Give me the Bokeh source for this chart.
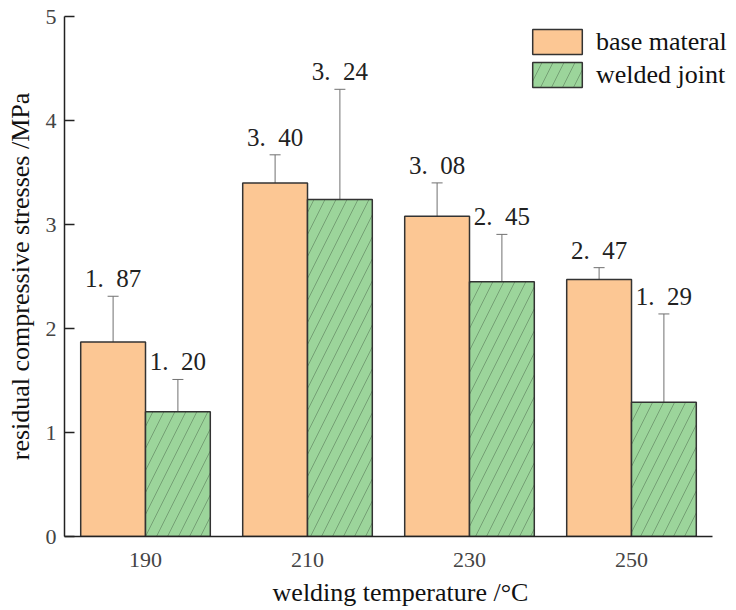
from bokeh.plotting import figure
from bokeh.models import (ColumnDataSource, Whisker, TeeHead, Legend, LegendItem,
                          FixedTicker, Range1d)
from bokeh.core.properties import value
from bokeh.embed import file_html
from bokeh.resources import INLINE

# welding temperatures (°C)
temperatures = ["190", "210", "230", "250"]
# residual compressive stresses (MPa) and their standard deviations
base_material = [1.87, 3.40, 3.08, 2.47]
base_err = [0.44, 0.27, 0.32, 0.115]
welded_joint = [1.20, 3.24, 2.45, 1.29]
welded_err = [0.31, 1.06, 0.455, 0.85]
series_names = ["base materal", "welded joint"]

SERIF = "Liberation Serif"
BAR_W = 0.4
X_LO, X_HI = -0.5, 3.5


def fmt(v):
    # gap after the decimal point, as in the printed labels
    return f"{v:.2f}".replace(".", ".\u2002")


# frame runs to the right edge so the legend has room; the x axis line stops at X_HI
p = figure(width=736, height=610, output_backend="svg", toolbar_location=None,
           x_range=Range1d(X_LO, X_HI + 24 / 162), y_range=Range1d(0, 5),
           min_border_left=64, min_border_right=0, min_border_top=16,
           min_border_bottom=74)
p.grid.visible = False
p.outline_line_color = None

idx = list(range(len(temperatures)))
xb = [i - BAR_W / 2 for i in idx]
xw = [i + BAR_W / 2 for i in idx]

src_b = ColumnDataSource(dict(
    x=xb, top=base_material,
    upper=[v + e for v, e in zip(base_material, base_err)],
    lower=[v - e for v, e in zip(base_material, base_err)],
    label=[fmt(v) for v in base_material]))
src_w = ColumnDataSource(dict(
    x=xw, top=welded_joint,
    upper=[v + e for v, e in zip(welded_joint, welded_err)],
    lower=[v - e for v, e in zip(welded_joint, welded_err)],
    label=[fmt(v) for v in welded_joint]))

rb = p.vbar(x="x", top="top", width=BAR_W, source=src_b,
            fill_color="#FCC794", line_color="#333333", line_width=1.5)
rw = p.vbar(x="x", top="top", width=BAR_W, source=src_w,
            fill_color="#9CD59B", line_color="#333333", line_width=1.5,
            hatch_pattern="/", hatch_color="#4d6b4d", hatch_scale=22,
            hatch_weight=0.6, hatch_alpha=0.85)

for src in (src_b, src_w):
    w = Whisker(base="x", upper="upper", lower="lower", source=src,
                line_color="#707070", line_width=1,
                upper_head=TeeHead(size=11, line_color="#707070", line_width=1),
                lower_head=TeeHead(size=11, line_color="#707070", line_width=1))
    p.add_layout(w)
    p.text(x="x", y="upper", text="label", source=src, y_offset=-4,
           text_align="center", text_baseline="bottom",
           text_font=value(SERIF), text_font_size="25px", text_color="#222222")

# axes
p.xaxis.ticker = FixedTicker(ticks=idx)
p.xaxis.major_label_overrides = {i: t for i, t in zip(idx, temperatures)}
p.xaxis.minor_tick_line_color = None
p.xaxis.bounds = (X_LO, X_HI)
p.xaxis.axis_label = "welding temperature /°C"

p.yaxis.ticker = FixedTicker(ticks=[0, 1, 2, 3, 4, 5])
p.yaxis.major_tick_in = 10
p.yaxis.major_tick_out = 0
p.yaxis.minor_tick_line_color = None
p.yaxis.axis_label = "residual compressive stresses /MPa"

for ax in (p.xaxis[0], p.yaxis[0]):
    ax.axis_line_color = "#222222"
    ax.axis_line_width = 1.5
    ax.major_tick_line_width = 1.5
    ax.major_label_text_font = SERIF
    ax.major_label_text_font_size = "22px"
    ax.major_label_text_color = "#444444"
    ax.axis_label_text_font = SERIF
    ax.axis_label_text_font_size = "26px"
    ax.axis_label_text_font_style = "normal"
    ax.axis_label_text_color = "#111111"
p.yaxis.major_tick_line_color = "#222222"
p.xaxis.major_tick_line_color = None
p.xaxis.major_label_standoff = 10
p.xaxis.axis_label_standoff = 8
p.yaxis.major_label_standoff = 8
p.yaxis.axis_label_standoff = 8

legend = Legend(items=[LegendItem(label=series_names[0], renderers=[rb]),
                       LegendItem(label=series_names[1], renderers=[rw])],
                location=(462, 446), orientation="vertical",
                glyph_width=62, glyph_height=31, spacing=2, padding=0,
                margin=0, label_standoff=8,
                label_text_font=SERIF, label_text_font_size="26px",
                label_text_color="#111111",
                border_line_alpha=0, background_fill_alpha=0)
p.add_layout(legend, "center")

open("out.html", "w").write(file_html(p, INLINE))
